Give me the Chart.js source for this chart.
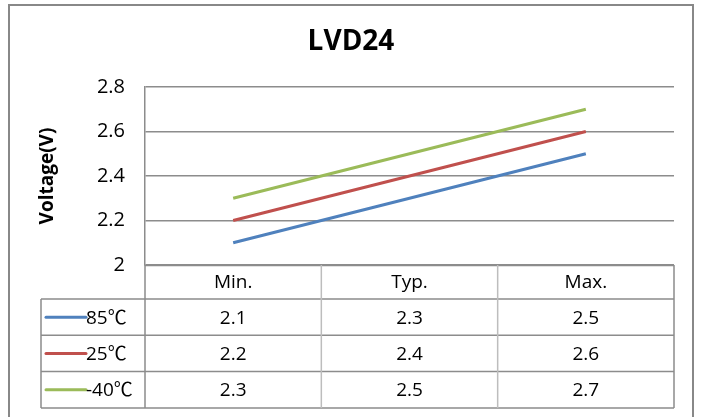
<!DOCTYPE html>
<html>
<head>
<meta charset="utf-8">
<script src="https://cdn.jsdelivr.net/npm/chart.js@4/dist/chart.umd.min.js"></script>
<style>
  html, body { margin: 0; padding: 0; background: #fff; }
  canvas { display: block; }
</style>
</head>
<body>
<canvas id="lvd" width="701" height="417"></canvas>
<script>
// LVD24 threshold voltage vs. corner, one line per temperature
const categories = ['Min.', 'Typ.', 'Max.'];
const temps      = ['85℃', '25℃', '-40℃'];
const v85        = [2.1, 2.3, 2.5];
const v25        = [2.2, 2.4, 2.6];
const vMinus40   = [2.3, 2.5, 2.7];
const yTicks     = [2, 2.2, 2.4, 2.6, 2.8];

const BLUE  = '#4F81BD';
const RED   = '#C0504D';
const GREEN = '#9BBB59';
const LINE  = '#8C8C8C';
const FONT  = "'Open Sans', 'Noto Sans CJK SC', sans-serif";

Chart.defaults.font.family = FONT;
Chart.defaults.color = '#000';

const series = [
  { label: temps[0], data: v85,      color: BLUE },
  { label: temps[1], data: v25,      color: RED },
  { label: temps[2], data: vMinus40, color: GREEN },
];

// frame, title, rotated axis title and the data table under the plot
const decorations = {
  id: 'decorations',
  afterDraw(chart) {
    const { ctx, chartArea: a, scales: { x } } = chart;
    ctx.save();

    // outer frame
    ctx.strokeStyle = '#888';
    ctx.lineWidth = 2;
    ctx.beginPath();
    ctx.moveTo(9, 420);
    ctx.lineTo(9, 5);
    ctx.lineTo(693, 5);
    ctx.lineTo(693, 420);
    ctx.stroke();

    // title
    ctx.fillStyle = '#000';
    ctx.textAlign = 'center';
    ctx.textBaseline = 'middle';
    ctx.font = "bold 28px " + FONT;
    ctx.fillText('LVD24', 351, 42);

    // y axis title
    ctx.save();
    ctx.translate(48, 176);
    ctx.rotate(-Math.PI / 2);
    ctx.font = "bold 19px " + FONT;
    ctx.fillText('Voltage(V)', 0, 0);
    ctx.restore();

    // table geometry from the x scale
    const step = x.getPixelForValue(1) - x.getPixelForValue(0);
    const cols = categories.map((c, i) => x.getPixelForValue(i) - step / 2);
    cols.push(x.getPixelForValue(categories.length - 1) + step / 2);
    const top = a.bottom;
    const headBottom = top + 34;
    const rowH = 36.3;
    const rows = [headBottom];
    series.forEach((s, i) => rows.push(headBottom + rowH * (i + 1)));
    const legLeft = 41;
    const right = cols[cols.length - 1];
    const bottom = rows[rows.length - 1];

    ctx.lineWidth = 1.5;
    // horizontal rules
    ctx.strokeStyle = LINE;
    ctx.beginPath();
    ctx.moveTo(cols[0], top + 0.5); ctx.lineTo(right, top + 0.5);
    rows.forEach(y => { ctx.moveTo(legLeft, y); ctx.lineTo(right, y); });
    ctx.stroke();
    // outer verticals
    ctx.beginPath();
    ctx.moveTo(legLeft, headBottom); ctx.lineTo(legLeft, bottom);
    ctx.moveTo(cols[0], top); ctx.lineTo(cols[0], bottom);
    ctx.moveTo(right, top); ctx.lineTo(right, bottom);
    ctx.stroke();
    // inner column dividers
    ctx.strokeStyle = '#BDBDBD';
    ctx.beginPath();
    for (let i = 1; i < cols.length - 1; i++) {
      ctx.moveTo(cols[i], top); ctx.lineTo(cols[i], bottom);
    }
    ctx.stroke();

    // header and values
    ctx.fillStyle = '#000';
    ctx.font = "19px " + FONT;
    ctx.textAlign = 'center';
    categories.forEach((c, i) => {
      ctx.fillText(c, x.getPixelForValue(i), (top + headBottom) / 2 + 1);
    });
    series.forEach((s, r) => {
      const cy = (rows[r] + rows[r + 1]) / 2 + 1;
      s.data.forEach((v, i) => ctx.fillText(String(v), x.getPixelForValue(i), cy));
      // legend key
      ctx.strokeStyle = s.color;
      ctx.lineWidth = 3;
      ctx.lineCap = 'round';
      ctx.beginPath();
      ctx.moveTo(46, cy - 1); ctx.lineTo(86, cy - 1);
      ctx.stroke();
      ctx.textAlign = 'left';
      ctx.fillText(s.label, 86, cy);
      ctx.textAlign = 'center';
    });

    ctx.restore();
  }
};

new Chart(document.getElementById('lvd'), {
  type: 'line',
  data: {
    labels: categories,
    datasets: series.map(s => ({
      label: s.label,
      data: s.data,
      borderColor: s.color,
      backgroundColor: s.color,
      borderWidth: 3,
      pointRadius: 0,
      tension: 0,
    })),
  },
  options: {
    responsive: false,
    animation: false,
    devicePixelRatio: 1,
    layout: { padding: { left: 0, right: 27, top: 87, bottom: 152 } },
    plugins: {
      legend: { display: false },
      title: { display: false },
      tooltip: { enabled: false },
    },
    scales: {
      x: {
        type: 'category',
        display: false,
        offset: true,
      },
      y: {
        min: yTicks[0],
        max: yTicks[yTicks.length - 1],
        afterBuildTicks: scale => { scale.ticks = yTicks.map(v => ({ value: v })); },
        afterFit: scale => { scale.width = 145; },
        grid: { color: LINE, lineWidth: 1.5, drawTicks: false },
        border: { color: LINE, width: 1.5 },
        ticks: {
          padding: 20,
          font: { size: 20 },
          color: '#000',
          callback: v => String(+v.toFixed(1)),
        },
      },
    },
  },
  plugins: [decorations],
});
</script>
</body>
</html>
